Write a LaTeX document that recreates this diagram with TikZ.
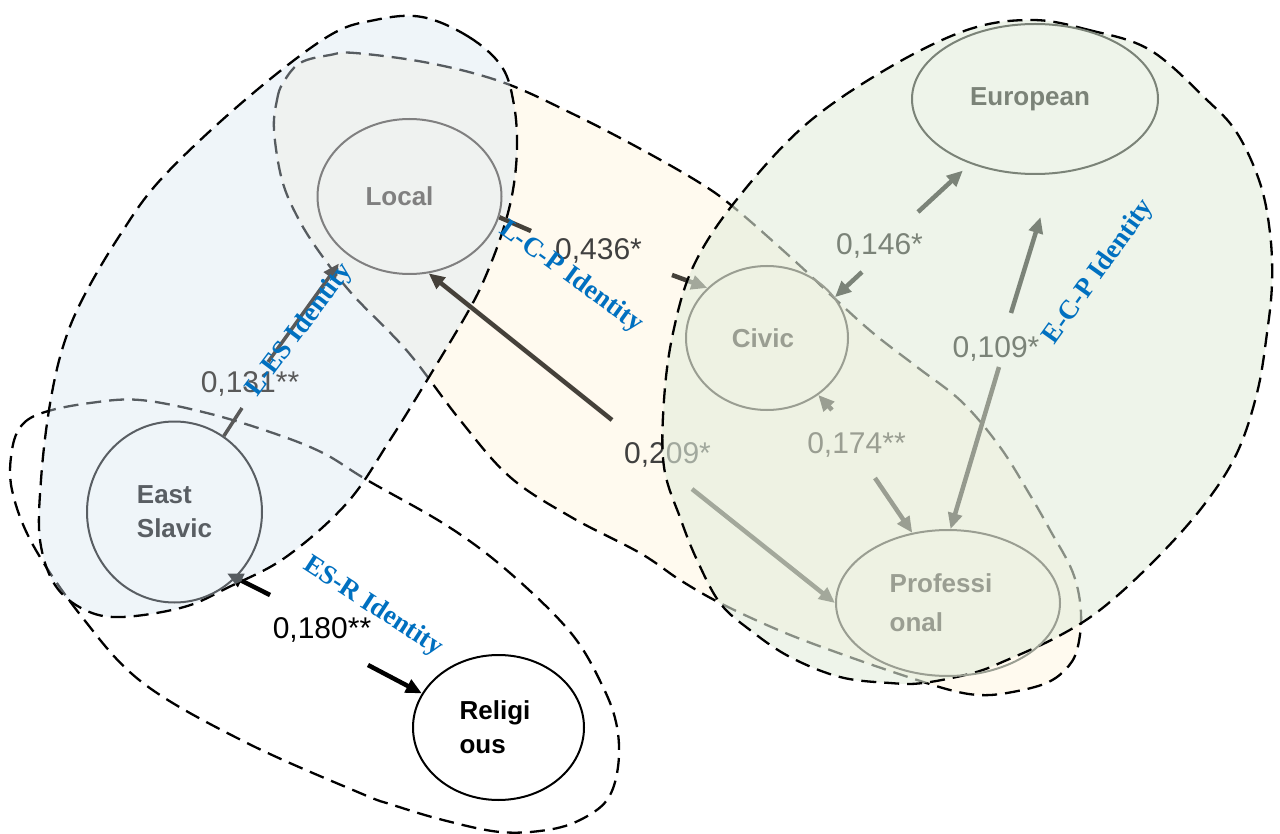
\documentclass[tikz,border=0pt]{standalone}
\usepackage{fontspec}
\usetikzlibrary{shapes.geometric,arrows.meta}
\newfontfamily\sansf{Liberation Sans}
\newfontfamily\seriff{Liberation Serif}
\definecolor{beige}{RGB}{255,250,239}
\definecolor{blueov}{RGB}{217,230,242}
\definecolor{greenov}{RGB}{227,238,220}
\definecolor{idblue}{RGB}{0,112,192}
\definecolor{localc}{RGB}{128,128,128}
\definecolor{eastc}{RGB}{89,94,99}
\definecolor{euroc}{RGB}{123,131,120}
\definecolor{civc}{RGB}{154,158,146}
\definecolor{darkln}{RGB}{69,65,58}
\definecolor{darktx}{RGB}{64,64,64}
\definecolor{midgray}{RGB}{89,89,89}
\pgfdeclarelayer{bgA}
\pgfdeclarelayer{bgB}
\pgfdeclarelayer{bgC}
\pgfdeclarelayer{bgD}
\pgfdeclarelayer{bgE}
\pgfdeclarelayer{fg}
\pgfsetlayers{bgA,bgB,bgC,bgD,bgE,main,fg}
\tikzset{
  grp/.style={line width=2.3pt, dash pattern=on 15pt off 8pt},
  fac/.style={ellipse, draw, line width=2pt, inner sep=0pt, align=left,
    font=\sansf\bfseries\fontsize{26}{34}\selectfont},
  coef/.style={inner sep=0pt, anchor=base, font=\sansf\fontsize{30}{36}\selectfont},
  idlab/.style={inner sep=0pt, text=idblue, font=\seriff\bfseries\fontsize{27}{32}\selectfont},
  conn/.style={line width=4.5pt},
  thinconn/.style={line width=3.5pt},
  arr/.style={-{Triangle[length=16pt,width=14pt]}},
}
\begin{document}
\begin{tikzpicture}[x=1pt,y=-1pt]
\useasboundingbox (0,0) rectangle (1280,834);

% ---------------- nodes ----------------
\node[fac, draw=localc, text=localc, minimum width=184pt, minimum height=155pt] (Local) at (409.5,196.5) {Local\hspace*{20pt}};
\node[fac, draw=eastc, text=eastc, minimum width=175pt, minimum height=181pt] (EastSlavic) at (174.5,512) {East\\Slavic};
\node[fac, draw=black, text=black, minimum width=171pt, minimum height=145pt] (Religious) at (498.5,727.5) {Religi\hspace*{7pt}\\ous};
\node[fac, draw=euroc, text=euroc, minimum width=246pt, minimum height=150pt] (European) at (1035,99) {European\hspace*{10pt}};
\node[fac, draw=civc, text=civc, minimum width=162pt, minimum height=144pt] (Civic) at (767,338) {Civic\hspace*{8pt}};
\node[fac, draw=civc, text=civc, minimum width=224pt, minimum height=146pt,
      font=\sansf\bfseries\fontsize{26}{39}\selectfont] (Professional) at (948,603) {Professi\hspace*{14pt}\\onal};

% ---------------- coefficient labels ----------------
\node[coef, text=darktx] (l436) at (598.5,260) {0,436*};
\node[coef, text=midgray] (l131) at (250,392) {0,131**};
\node[coef, text=black] (l180) at (322,638) {0,180**};
\node[coef, text=euroc] (l146) at (879.5,255) {0,146*};
\node[coef, text=civc] (l174) at (856.5,453) {0,174**};
\node[coef, text=euroc] (l109) at (996,357) {0,109*};

% free ends of the split connectors
\coordinate (a436a) at (531,231);
\coordinate (a436b) at (672,275);
\coordinate (a209a) at (612,420);
\coordinate (a209b) at (692,489);
\coordinate (a131a) at (242,408);
\coordinate (a131b) at (268,362);
\coordinate (a180a) at (270,595);
\coordinate (a180b) at (368,665);
\coordinate (a146a) at (918,212);
\coordinate (a146b) at (862,272);
\coordinate (a174a) at (832,410);
\coordinate (a174b) at (875,478);
\coordinate (a109a) at (1011,313);
\coordinate (a109b) at (999,367);

% ---------------- background groups ----------------
\begin{pgfonlayer}{bgA}
\fill[white] (0,0) rectangle (1280,834);
% ES-R identity
\draw[grp] plot[smooth cycle, tension=0.6] coordinates {
 (12,450) (22,425) (45,412) (90,403) (140,400) (207,413) (273,433) (323,453)
 (367,480) (449,527) (510,573) (571,633) (603,687) (617,727) (618,767) (607,800)
 (580,820) (547,830) (500,832) (443,820) (393,805) (360,793) (245,742) (143,683)
 (82,617) (33,545) (12,490)};
% L-C-P identity
\draw[grp, fill=beige] plot[smooth cycle, tension=0.6] coordinates {
 (274,130) (277,100) (283,83) (300,63) (330,55) (355,53) (429,63) (502,82)
 (571,113) (637,147) (700,183) (737,210) (797,263) (833,297) (873,333) (917,367)
 (962,402) (1000,447) (1030,495) (1050,530) (1073,573) (1081,613) (1077,650)
 (1065,670) (1044,684) (1007,693) (979,695) (950,690) (905,676) (844,655)
 (783,632) (722,604) (680,580) (640,553) (571,517) (510,477) (460,420) (408,352)
 (353,295) (320,253) (298,218) (282,180)};
\end{pgfonlayer}

\begin{pgfonlayer}{bgB}
\draw[conn, arr, black, shorten >=-10pt] (a180a) -- (EastSlavic.-47);
\draw[conn, arr, black] (a180b) -- (Religious.156);
\end{pgfonlayer}

\begin{pgfonlayer}{bgC}
% L-ES identity
\draw[grp, fill=blueov, fill opacity=0.4] plot[smooth cycle, tension=0.6] coordinates {
 (422,17) (469,37) (502,67) (514,105) (517,147) (513,190) (503,230) (487,273)
 (469,310) (429,377) (390,440) (347,503) (286,557) (229,587) (184,607) (122,617)
 (85,610) (55,585) (40,540) (41,480) (49,410) (62,350) (82,300) (120,235)
 (163,177) (245,100) (327,37) (375,20)};
\end{pgfonlayer}

\begin{pgfonlayer}{bgD}
\draw[conn, darkln] (Local.-13) -- (a436a);
\draw[conn, arr, darkln] (a436b) -- (Civic.140);
\draw[conn, arr, darkln] (a209a) -- (Local.-76);
\draw[conn, arr, darkln] (a209b) -- (Professional.180);
\node[coef, text=darktx] (l209) at (667.5,463) {0,209*};
\end{pgfonlayer}

\begin{pgfonlayer}{bgE}
% E-C-P identity
\draw[grp, fill=greenov, fill opacity=0.6] plot[smooth cycle, tension=0.6] coordinates {
 (1032,20) (1089,30) (1150,50) (1207,100) (1237,133) (1260,183) (1270,233)
 (1272,283) (1267,333) (1257,393) (1236,455) (1200,510) (1150,565) (1100,610)
 (1057,637) (1007,660) (973,673) (923,683) (890,683) (840,677) (790,657)
 (750,630) (720,603) (697,560) (681,520) (664,467) (664,400) (673,333)
 (693,267) (734,203) (803,127) (885,70) (967,30)};
\end{pgfonlayer}

% ---------------- connectors on top ----------------
\draw[thinconn, midgray] (EastSlavic.57) -- (a131a);
\draw[thinconn, arr, midgray, shorten >=12pt] (a131b) -- (Local.-138);
\draw[conn, arr, euroc, shorten >=10pt] (a146a) -- (European.-135);
\draw[conn, arr, euroc] (a146b) -- (Civic.31);
\draw[conn, arr, civc] (a174a) -- (Civic.-48);
\draw[conn, arr, civc] (a174b) -- (Professional.117);
\draw[conn, arr, euroc, shorten >=45pt] (a109a) -- (European.-76);
\draw[conn, arr, civc!85!euroc] (a109b) -- (Professional.88);

% ---------------- identity labels ----------------
\begin{pgfonlayer}{fg}
\node[idlab, rotate=53] (tLES) at (300,330) {L-ES Identity};
\node[idlab, rotate=-36] (tLCP) at (571,277) {L-C-P Identity};
\node[idlab, rotate=54.5] (tECP) at (1099,272) {E-C-P Identity};
\node[idlab, rotate=-33] (tESR) at (373,607) {ES-R Identity};
\end{pgfonlayer}
\end{tikzpicture}
\end{document}
